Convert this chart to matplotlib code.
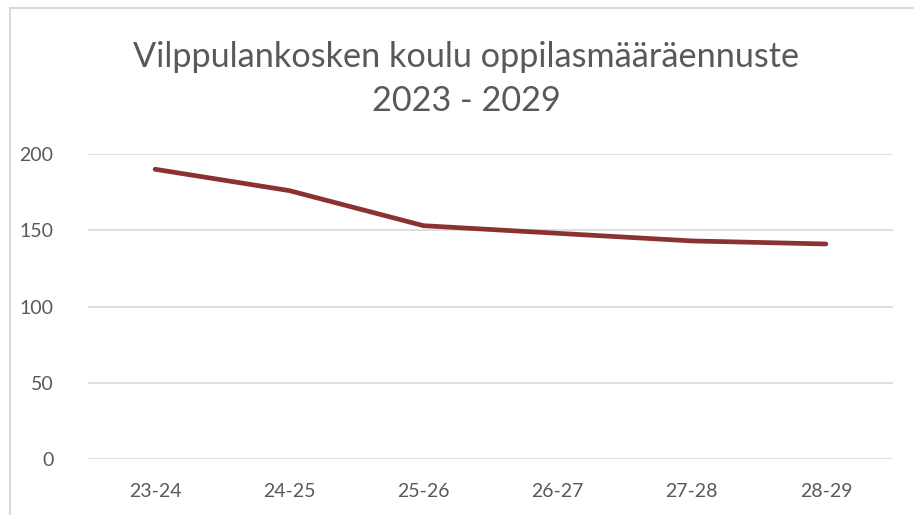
import matplotlib
matplotlib.use("Agg")
import matplotlib.pyplot as plt
from matplotlib.lines import Line2D

categories = ["23-24", "24-25", "25-26", "26-27", "27-28", "28-29"]
values = [190, 176, 153, 148, 143, 141]
yticks = [0, 50, 100, 150, 200]
title = "Vilppulankosken koulu oppilasmääräennuste\n2023 - 2029"

W, H = 914, 515
fig = plt.figure(figsize=(W / 100, H / 100), dpi=100)
fig.patch.set_facecolor("white")

def fx(px):
    return px / W

def fy(py):
    return 1 - py / H

# chart border (top and left visible)
fig.add_artist(Line2D([fx(10), fx(10)], [fy(8), 0], color="#d9d9d9", lw=1.5, transform=fig.transFigure))
fig.add_artist(Line2D([fx(10), 1], [fy(8), fy(8)], color="#d9d9d9", lw=1.5, transform=fig.transFigure))

ax = fig.add_axes([fx(88), fy(459), fx(893) - fx(88), fy(154) - fy(459)])
x = list(range(len(categories)))
ax.plot(x, values, color="#8a3230", lw=3.4, solid_capstyle="round", solid_joinstyle="round", zorder=3)
ax.set_xlim(-0.5, len(categories) - 0.5)
ax.set_ylim(0, 200)
ax.set_yticks(yticks)
ax.set_xticks(x)
ax.set_xticklabels(categories)
ax.grid(axis="y", color="#d9d9d9", lw=1.2)
ax.set_axisbelow(True)
for s in ax.spines.values():
    s.set_visible(False)
ax.tick_params(axis="both", length=0, labelsize=14, colors="#595959", labelfontfamily="Lato")
ax.tick_params(axis="y", pad=25)
ax.tick_params(axis="x", pad=17)
ax.set_facecolor("none")

fig.text(fx(466), fy(79), title, ha="center", va="center", fontsize=24.7, color="#595959",
         family="Lato", linespacing=1.45)

fig.savefig("out.png", dpi=100)
